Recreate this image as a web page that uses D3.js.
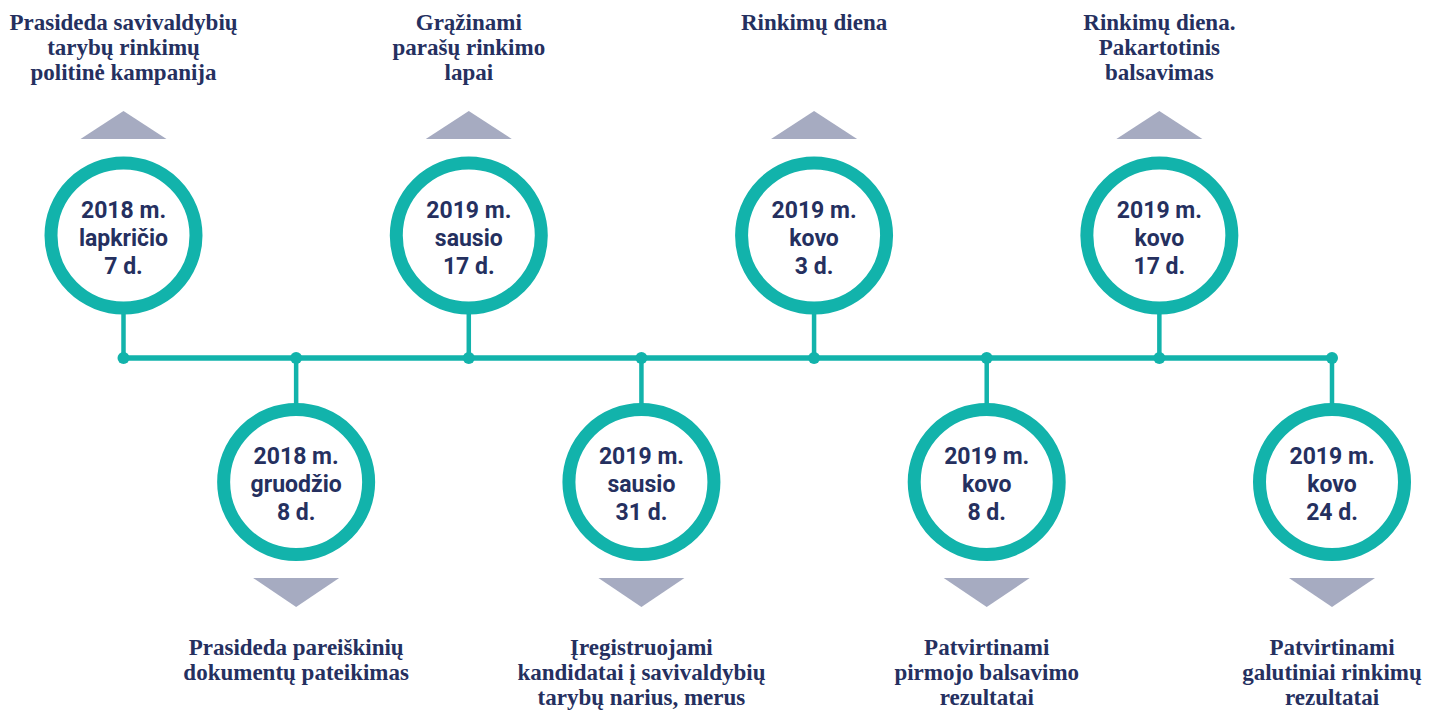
<!DOCTYPE html>
<html>
<head>
<meta charset="utf-8">
<script src="https://cdn.jsdelivr.net/npm/d3@7"></script>
<style>
  html, body { margin: 0; padding: 0; background: #ffffff; }
  svg { display: block; }
</style>
</head>
<body>
<svg id="chart" width="1440" height="711"></svg>
<script>
// ---- Data ----
const eventIds = ["e1", "e2", "e3", "e4", "e5", "e6", "e7", "e8"];
const years = ["2018 m.", "2018 m.", "2019 m.", "2019 m.", "2019 m.", "2019 m.", "2019 m.", "2019 m."];
const months = ["lapkričio", "gruodžio", "sausio", "sausio", "kovo", "kovo", "kovo", "kovo"];
const days = ["7 d.", "8 d.", "17 d.", "31 d.", "3 d.", "8 d.", "17 d.", "24 d."];
const sides = ["top", "bottom", "top", "bottom", "top", "bottom", "top", "bottom"];
const descriptions = [
  ["Prasideda savivaldybių", "tarybų rinkimų", "politinė kampanija"],
  ["Prasideda pareiškinių", "dokumentų pateikimas"],
  ["Grąžinami", "parašų rinkimo", "lapai"],
  ["Įregistruojami", "kandidatai į savivaldybių", "tarybų narius, merus"],
  ["Rinkimų diena"],
  ["Patvirtinami", "pirmojo balsavimo", "rezultatai"],
  ["Rinkimų diena.", "Pakartotinis", "balsavimas"],
  ["Patvirtinami", "galutiniai rinkimų", "rezultatai"]
];

const events = eventIds.map((id, i) => ({
  id, year: years[i], month: months[i], day: days[i], side: sides[i], desc: descriptions[i]
}));

// ---- Styles / layout ----
const teal = "#12b3ab";
const navy = "#25305f";
const triColor = "#a6abc1";
const lineY = 358;
const topCy = 235.5, botCy = 482;
const ringR = 72.5, ringW = 13;
const outerR = ringR + ringW / 2;

const svg = d3.select("#chart");
const x = d3.scalePoint().domain(eventIds).range([123.5, 1332]);

// main horizontal line
svg.append("line")
  .attr("x1", x(eventIds[0])).attr("x2", x(eventIds[eventIds.length - 1]))
  .attr("y1", lineY).attr("y2", lineY)
  .attr("stroke", teal).attr("stroke-width", 5.5);

const g = svg.selectAll("g.event").data(events).join("g")
  .attr("class", "event")
  .attr("transform", d => `translate(${x(d.id)},0)`);

// stems
g.append("line")
  .attr("x1", 0).attr("x2", 0)
  .attr("y1", lineY)
  .attr("y2", d => d.side === "top" ? topCy + outerR - 2 : botCy - outerR + 2)
  .attr("stroke", teal).attr("stroke-width", 4.5);

// dots
g.append("circle")
  .attr("cx", 0).attr("cy", lineY).attr("r", 6)
  .attr("fill", teal);

// rings
g.append("circle")
  .attr("cx", 0).attr("cy", d => d.side === "top" ? topCy : botCy)
  .attr("r", ringR)
  .attr("fill", "#ffffff")
  .attr("stroke", teal).attr("stroke-width", ringW);

// date text inside ring
g.each(function(d) {
  const cy = d.side === "top" ? topCy : botCy;
  const t = d3.select(this).append("text")
    .attr("text-anchor", "middle")
    .attr("font-family", "Roboto, sans-serif")
    .attr("font-weight", 700)
    .attr("font-size", 23)
    .attr("fill", navy);
  [d.year, d.month, d.day].forEach((s, k) => {
    t.append("tspan").attr("x", 0).attr("y", cy - 18 + k * 28).text(s);
  });
});

// triangles
g.append("path")
  .attr("d", d => d.side === "top"
    ? "M-43,139 L0,111 L43,139 Z"
    : "M-43,578 L0,607 L43,578 Z")
  .attr("fill", triColor);

// description text
g.each(function(d) {
  const y0 = d.side === "top" ? 30 : 655;
  const t = d3.select(this).append("text")
    .attr("text-anchor", "middle")
    .attr("font-family", "'Liberation Serif', 'Times New Roman', serif")
    .attr("font-weight", 700)
    .attr("font-size", 23)
    .attr("fill", navy);
  d.desc.forEach((s, k) => {
    t.append("tspan").attr("x", 0).attr("y", y0 + k * 25).text(s);
  });
});
</script>
</body>
</html>
